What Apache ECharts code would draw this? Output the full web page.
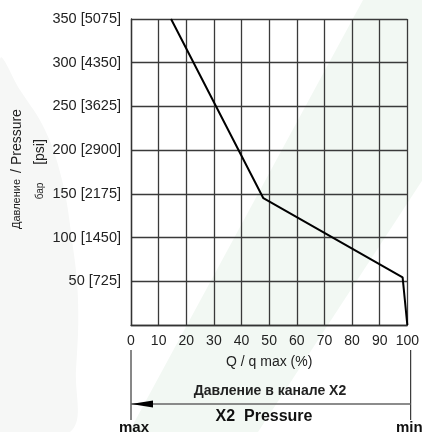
<!DOCTYPE html>
<html><head><meta charset="utf-8">
<script src="https://cdn.jsdelivr.net/npm/echarts@6/dist/echarts.min.js"></script>
<style>html,body{margin:0;padding:0;background:#fff}#c{width:422px;height:432px}</style>
</head><body><div id="c"></div>
<script>
// Data
const xTicks = [0, 10, 20, 30, 40, 50, 60, 70, 80, 90, 100];
const yBar = [50, 100, 150, 200, 250, 300, 350];
const yPsi = [725, 1450, 2175, 2900, 3625, 4350, 5075];
const flowPct = [14.5, 47.9, 98.3, 100];
const pressureBar = [350, 145, 54.5, 0];
const xAxisTitle = 'Q / q max (%)';
const titleRu = 'Давление в канале X2';
const titleEn = 'X2  Pressure';

const FONT = '"Liberation Sans", Arial, sans-serif';
const chart = echarts.init(document.getElementById('c'), null, {renderer: 'canvas'});

const G = {l: 131, r: 410.7, t: 19, b: 325};

chart.setOption({
  animation: false,
  backgroundColor: '#ffffff',
  grid: {left: G.l, right: 422 - G.r, top: G.t, bottom: 432 - G.b, containLabel: false},
  xAxis: {
    type: 'value', min: 0, max: 100, interval: 10,
    axisLine: {show: true, lineStyle: {color: '#333', width: 1.3}},
    axisTick: {show: false},
    splitLine: {show: true, lineStyle: {color: '#3a3a3a', width: 1.3}},
    axisLabel: {margin: 9, fontSize: 14, color: '#222', fontFamily: FONT,
      formatter: v => xTicks.includes(v) ? String(v) : ''},
    name: xAxisTitle, nameLocation: 'middle', nameGap: 30,
    nameTextStyle: {fontSize: 14, color: '#222', fontFamily: FONT}
  },
  yAxis: {
    type: 'value', min: 0, max: 350, interval: 50,
    axisLine: {show: true, lineStyle: {color: '#333', width: 1.3}},
    axisTick: {show: false},
    splitLine: {show: true, lineStyle: {color: '#3a3a3a', width: 1.3}},
    axisLabel: {margin: 10, fontSize: 14.5, color: '#222', fontFamily: FONT,
      formatter: v => { const i = yBar.indexOf(v); return i < 0 ? '' : v + ' [' + yPsi[i] + ']'; }}
  },
  graphic: [
    // faint background decorations
    {type: 'polygon', z: -10, silent: true,
      shape: {points: [[363, 0], [540, 0], [258, 432], [129, 432]]},
      style: {fill: '#f2f8f3'}},
    {type: 'polygon', z: -11, silent: true,
      shape: {smooth: 0.4, points: [[0, 60], [20, 90], [45, 130], [62, 180], [72, 240], [78, 300], [76, 370], [70, 432], [0, 432]]},
      style: {fill: '#f6f7f6'}},
    // y axis title
    {type: 'text', x: 17, y: 141, rotation: Math.PI / 2,
      style: {text: '/ Pressure', font: '14px ' + FONT, fill: '#222', textAlign: 'center', textVerticalAlign: 'middle'}},
    {type: 'text', x: 17, y: 204, rotation: Math.PI / 2,
      style: {text: 'Давление', font: '11px ' + FONT, fill: '#222', textAlign: 'center', textVerticalAlign: 'middle'}},
    {type: 'text', x: 40, y: 152, rotation: Math.PI / 2,
      style: {text: '[psi]', font: '14px ' + FONT, fill: '#222', textAlign: 'center', textVerticalAlign: 'middle'}},
    {type: 'text', x: 40, y: 191, rotation: Math.PI / 2,
      style: {text: 'бар', font: '10px ' + FONT, fill: '#222', textAlign: 'center', textVerticalAlign: 'middle'}},
    // bottom annotation
    {type: 'text', x: 270, y: 391,
      style: {text: titleRu, font: 'bold 14px ' + FONT, fill: '#222', textAlign: 'center', textVerticalAlign: 'middle'}},
    {type: 'line', shape: {x1: 131, y1: 350, x2: 131, y2: 420}, style: {stroke: '#111', lineWidth: 1}},
    {type: 'line', shape: {x1: 410.7, y1: 350, x2: 410.7, y2: 420}, style: {stroke: '#111', lineWidth: 1}},
    {type: 'line', shape: {x1: 131, y1: 404, x2: 410.7, y2: 404}, style: {stroke: '#666', lineWidth: 1.5}},
    {type: 'polygon', shape: {points: [[131, 404], [153, 400.5], [153, 407.5]]}, style: {fill: '#000'}},
    {type: 'text', x: 264, y: 417,
      style: {text: titleEn, font: 'bold 16px ' + FONT, fill: '#111', textAlign: 'center', textVerticalAlign: 'middle'}},
    {type: 'text', x: 134, y: 428,
      style: {text: 'max', font: 'bold 15px ' + FONT, fill: '#111', textAlign: 'center', textVerticalAlign: 'middle'}},
    {type: 'text', x: 396, y: 428,
      style: {text: 'min', font: 'bold 15px ' + FONT, fill: '#111', textAlign: 'left', textVerticalAlign: 'middle'}}
  ],
  series: [{
    type: 'line',
    data: flowPct.map((x, i) => [x, pressureBar[i]]),
    showSymbol: false, symbol: 'none',
    lineStyle: {color: '#000', width: 2},
    z: 5
  }]
});
</script></body></html>
